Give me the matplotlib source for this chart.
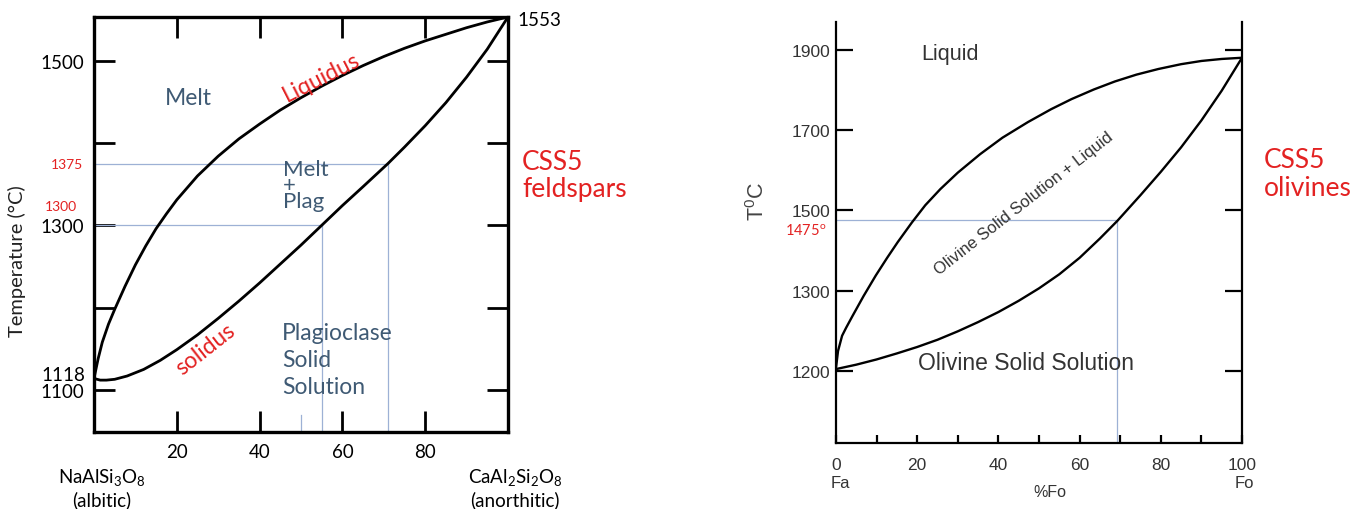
import matplotlib

matplotlib.use("Agg")
import matplotlib.pyplot as plt

plt.rcParams["font.family"] = ["Lato", "DejaVu Sans"]
plt.rcParams["mathtext.fontset"] = "custom"
plt.rcParams["mathtext.rm"] = "Lato"
plt.rcParams["mathtext.it"] = "Lato:italic"
plt.rcParams["mathtext.bf"] = "Lato:bold"
plt.rcParams["mathtext.sf"] = "Liberation Sans"

W, H = 1359, 510

RED = "#e32222"
SLATE = "#3f5a74"
GUIDE = "#9db1d5"
ARIAL = ["Liberation Sans", "DejaVu Sans"]

# ---------------- feldspar (plagioclase) data ----------------
fs_x_liq = [0, 1, 2, 3.5, 5, 7.5, 10, 12.5, 15, 17.5, 20, 25, 30, 35, 40, 45, 50,
            55, 60, 65, 70, 75, 80, 85, 90, 95, 100]
fs_t_liq = [1114, 1138, 1158, 1180, 1198, 1226, 1252, 1275, 1296, 1314, 1331, 1360,
            1384, 1405, 1423, 1440, 1455, 1469, 1482, 1494, 1505, 1515, 1524, 1532,
            1540, 1547, 1553]
fs_x_sol = [0, 1.5, 3, 5, 8, 12, 16, 20, 25, 30, 35, 40, 45, 50, 55, 60, 65, 71,
            75, 80, 85, 90, 95, 100]
fs_t_sol = [1114, 1112, 1112, 1113, 1117, 1125, 1136, 1149, 1167, 1187, 1208, 1230,
            1253, 1276, 1300, 1324, 1347, 1375, 1395, 1421, 1449, 1480, 1514, 1553]
fs_ylim = (1049, 1553)
fs_yticks = [1100, 1200, 1300, 1400, 1500]
fs_yticklabels = ["1100", "", "1300", "", "1500"]
fs_xticks = [20, 40, 60, 80]
fs_t_hi, fs_x_hi = 1375, 71      # liquid-composition guide
fs_t_lo, fs_x_lo = 1300, 55      # crystal-composition guide
fs_x_mark, fs_t_mark = 50, 1070  # short blue mark at 50

# ---------------- olivine data ----------------
# y is position on the printed axis (printed labels are not evenly scaled)
ol_yticks = [1100, 1300, 1500, 1700, 1900]
ol_yticklabels = ["1200", "1300", "1500", "1700", "1900"]
ol_ylim = (921, 1969)
ol_x_liq = [0, 0.5, 1.5, 2.5, 4, 6.8, 9.8, 12.6, 15.2, 18.7, 22, 25.7, 30, 35.5, 41,
            47.3, 53, 58, 63.5, 68.7, 74, 79.4, 85, 90, 95, 100]
ol_t_liq = [1108, 1150, 1188, 1208, 1236, 1287, 1338, 1382, 1421, 1470, 1513, 1553,
            1594, 1640, 1681, 1720, 1752, 1777, 1801, 1821, 1838, 1852, 1864, 1872,
            1877, 1880]
ol_x_sol = [0, 5, 10, 15, 20, 25, 30, 35, 40, 45, 50, 55, 60, 65, 69.3, 75, 80, 85,
            90, 95, 100]
ol_t_sol = [1105, 1116, 1129, 1144, 1160, 1178, 1199, 1222, 1247, 1275, 1306, 1341,
            1382, 1430, 1474, 1538, 1596, 1657, 1724, 1798, 1880]
ol_t_guide, ol_x_guide = 1475, 69.3
ol_xticks = list(range(0, 101, 10))
ol_xticklabels = ["0", "", "20", "", "40", "", "60", "", "80", "", "100"]


def fpos(x, y):
    """pixel position (from top-left) -> figure fraction"""
    return x / W, 1 - y / H


fig = plt.figure(figsize=(W / 100, H / 100), dpi=100)

# =============== LEFT: feldspars ===============
ax = fig.add_axes([94 / W, 77 / H, 414 / W, 415 / H])
ax.plot(fs_x_liq, fs_t_liq, color="black", lw=2.0, zorder=3)
ax.plot(fs_x_sol, fs_t_sol, color="black", lw=2.0, zorder=3)

ax.plot([0, fs_x_hi], [fs_t_hi, fs_t_hi], color=GUIDE, lw=0.9, zorder=2)
ax.plot([fs_x_hi, fs_x_hi], [fs_ylim[0], fs_t_hi], color=GUIDE, lw=0.9, zorder=2)
ax.plot([0, fs_x_lo], [fs_t_lo, fs_t_lo], color=GUIDE, lw=0.9, zorder=2)
ax.plot([fs_x_lo, fs_x_lo], [fs_ylim[0], fs_t_lo], color=GUIDE, lw=0.9, zorder=2)
ax.plot([fs_x_mark, fs_x_mark], [fs_ylim[0], fs_t_mark], color=GUIDE, lw=0.9, zorder=2)

ax.set_xlim(0, 100)
ax.set_ylim(*fs_ylim)
ax.set_xticks(fs_xticks)
ax.set_xticklabels([str(v) for v in fs_xticks])
ax.set_yticks(fs_yticks)
ax.set_yticklabels(fs_yticklabels)
ax.tick_params(direction="in", length=15, width=2.0, labelsize=13.5, pad=7,
               top=True, right=True, colors="black")
ax.tick_params(axis="x", pad=8)
for s in ax.spines.values():
    s.set_linewidth(2.4)

ax.set_ylabel("Temperature (°C)", fontsize=14.5, color="#222222")
ax.yaxis.set_label_coords(-0.165, 0.415)

yax = ax.get_yaxis_transform()
ax.text(-0.022, 1119, "1118", transform=yax, ha="right", va="center", fontsize=13.5)
ax.text(-0.027, fs_t_hi, "1375", transform=yax, ha="right", va="center",
        fontsize=10, color=RED)
ax.text(-0.040, 1323, "1300", transform=yax, ha="right", va="center",
        fontsize=10, color=RED)
ax.text(1.022, 1550, "1553", transform=yax, ha="left", va="center", fontsize=13.5)

ax.text(17, 1455, "Melt", color=SLATE, fontsize=16.5, va="center", ha="left")
ax.text(55, 1481, "Liquidus", color=RED, fontsize=16.5, rotation=27,
        ha="center", va="center", rotation_mode="anchor")
ax.text(45.6, 1349, "Melt\n+\nPlag", color=SLATE, fontsize=16, va="center",
        ha="left", linespacing=0.74)
ax.text(27, 1150, "solidus", color=RED, fontsize=16.5, rotation=38,
        ha="center", va="center", rotation_mode="anchor")
ax.text(45.4, 1137, "Plagioclase\nSolid\nSolution", color=SLATE, fontsize=16.5,
        va="center", ha="left", linespacing=1.33)

fig.text(*fpos(102, 488), "$\\mathrm{NaAlSi_3O_8}$\n(albitic)", ha="center",
         va="center", fontsize=13.5, linespacing=1.2)
fig.text(*fpos(515, 488), "$\\mathrm{CaAl_2Si_2O_8}$\n(anorthitic)", ha="center",
         va="center", fontsize=13.5, linespacing=1.2)
fig.text(*fpos(522, 176), "CSS5\nfeldspars", color=RED, fontsize=19,
         ha="left", va="center", linespacing=1.15)

# =============== RIGHT: olivines ===============
ax2 = fig.add_axes([836 / W, 66 / H, 406 / W, 421 / H])
ax2.plot(ol_x_liq, ol_t_liq, color="black", lw=1.7, zorder=3)
ax2.plot(ol_x_sol, ol_t_sol, color="black", lw=1.7, zorder=3)
ax2.plot([0, ol_x_guide], [ol_t_guide, ol_t_guide], color=GUIDE, lw=0.9, zorder=2)
ax2.plot([ol_x_guide, ol_x_guide], [ol_ylim[0], ol_t_guide], color=GUIDE, lw=0.9,
         zorder=2)

ax2.set_xlim(0, 100)
ax2.set_ylim(*ol_ylim)
ax2.spines["top"].set_visible(False)
for side in ("left", "right", "bottom"):
    ax2.spines[side].set_linewidth(1.6)
ax2.set_yticks(ol_yticks)
ax2.set_yticklabels(ol_yticklabels, family=ARIAL)
ax2.set_xticks(ol_xticks)
ax2.set_xticklabels(ol_xticklabels, family=ARIAL)
ax2.tick_params(axis="y", direction="in", length=12, width=1.6, right=True,
                labelsize=12.5, pad=4, labelcolor="#333333")
ax2.tick_params(axis="x", direction="in", length=6, width=1.6,
                labelsize=12.5, pad=10, labelcolor="#333333")

ax2.text(-0.195, 0.575, "$\\mathsf{T^0C}$", transform=ax2.transAxes, rotation=90,
         ha="center", va="center", fontsize=15.5, color="#444444")
ax2.text(-0.024, 1450, "$\\mathrm{1475^o}$", transform=ax2.get_yaxis_transform(),
         ha="right", va="center", fontsize=10.5, color=RED)

ax2.text(21, 1890, "Liquid", family=ARIAL, fontsize=15.5, color="#333333",
         ha="left", va="center")
ax2.text(46.3, 1520, "Olivine Solid Solution + Liquid", family=ARIAL, fontsize=12,
         color="#333333", rotation=38, ha="center", va="center",
         rotation_mode="anchor")
ax2.text(46.7, 1122, "Olivine Solid Solution", family=ARIAL, fontsize=16.5,
         color="#333333", ha="center", va="center")

ax2.text(0.012, -0.095, "Fa", transform=ax2.transAxes, family=ARIAL, fontsize=12,
         color="#333333", ha="center", va="center")
ax2.text(1.007, -0.095, "Fo", transform=ax2.transAxes, family=ARIAL, fontsize=12,
         color="#333333", ha="center", va="center")
ax2.text(0.527, -0.115, "%Fo", transform=ax2.transAxes, family=ARIAL, fontsize=11.5,
         color="#333333", ha="center", va="center")

fig.text(*fpos(1264, 175), "CSS5\nolivines", color=RED, fontsize=19,
         ha="left", va="center", linespacing=1.15)

fig.savefig("out.png", dpi=100)
